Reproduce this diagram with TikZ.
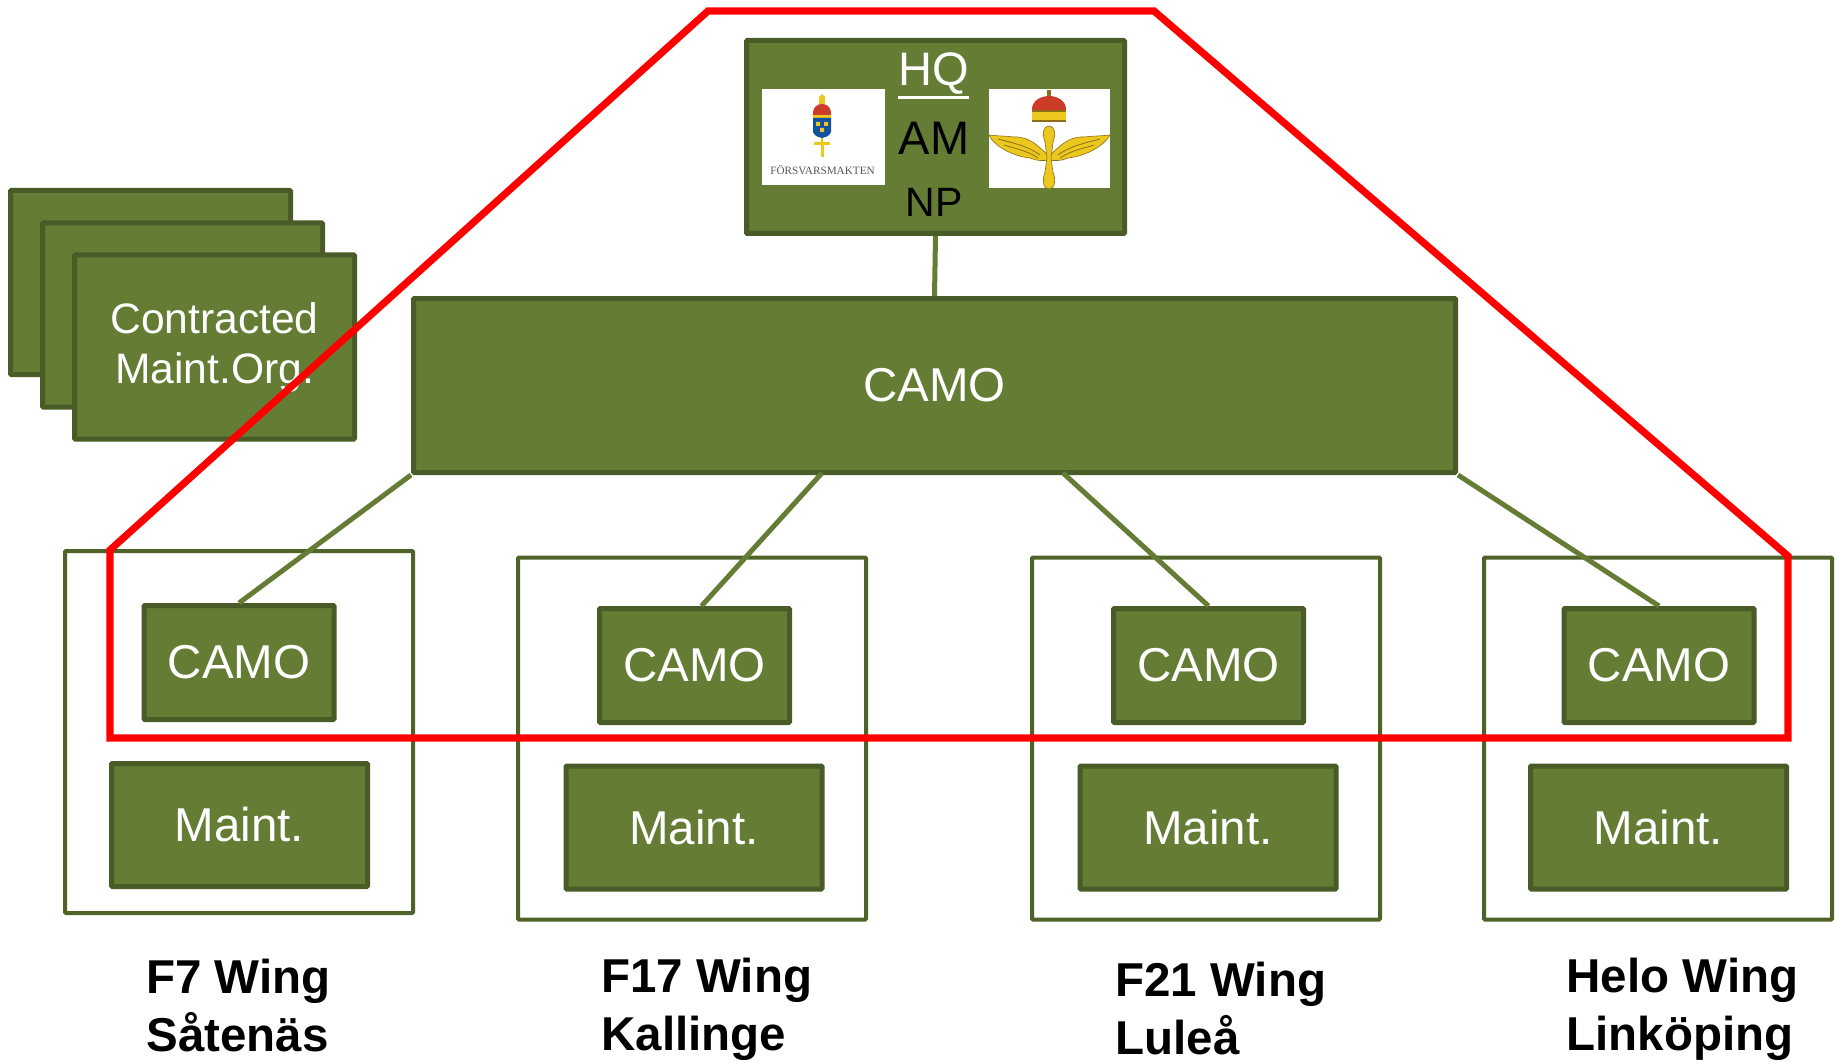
\documentclass[tikz,border=0pt]{standalone}
\usepackage{fontspec}
\setmainfont{Liberation Sans}
\newfontfamily\logofont{Liberation Serif}
\usetikzlibrary{arrows.meta}
\definecolor{boxfill}{RGB}{100,124,52}
\definecolor{boxline}{RGB}{73,91,38}
\definecolor{framegreen}{RGB}{79,98,40}
\definecolor{logogold}{RGB}{236,200,30}
\definecolor{golddark}{RGB}{140,110,20}
\definecolor{crownred}{RGB}{205,60,40}
\definecolor{shieldblue}{RGB}{20,80,160}
\tikzset{
  orgbox/.style={draw=boxline,fill=boxfill,line width=2.5pt,rounded corners=0.5pt,text=white,
    font=\fontsize{23.75}{29}\selectfont,align=center,inner sep=0pt},
  smallbox/.style={orgbox,minimum width=95pt,minimum height=57pt},
  maintbox/.style={orgbox,minimum width=128pt,minimum height=61.5pt},
  stackbox/.style={orgbox,minimum width=140pt,minimum height=92pt,font=\fontsize{21.3}{25}\selectfont},
  wingframe/.style={draw=framegreen,line width=2pt,rounded corners=0.5pt,minimum width=174pt,minimum height=181pt,inner sep=0pt},
  winglabel/.style={anchor=west,align=left,inner sep=0pt,font=\fontsize{23.75}{29}\selectfont\bfseries},
  hqtext/.style={inner sep=0pt,font=\fontsize{23.5}{28}\selectfont},
  logobox/.style={fill=white,inner sep=0pt},
  linkline/.style={draw=boxfill,line width=2.5pt},
  scopeline/.style={draw=red,line width=3.6pt,line join=miter}
}
\begin{document}
\begin{tikzpicture}[x=0.5pt,y=0.5pt,yscale=-1,xscale=1]
\useasboundingbox (0,0) rectangle (1835,1064);

% Contracted organisations
\node [stackbox] (stacka) at (150.5,282.5) {};
\node [stackbox] (stackb) at (182.5,315) {};
\node [stackbox] (stackc) at (214.5,347) {Contracted\\Maint.Org.};

% Wing frames
\node [wingframe] (wingf) at (239,732) {};
\node [wingframe] (wingk) at (692,738.5) {};
\node [wingframe] (wingl) at (1206,738.5) {};
\node [wingframe] (wingh) at (1658,738.5) {};

% Wing boxes
\node [smallbox] (camof) at (239,662.5) {CAMO};
\node [smallbox] (camok) at (694.5,665.5) {CAMO};
\node [smallbox] (camol) at (1208.5,665.5) {CAMO};
\node [smallbox] (camoh) at (1659,665.5) {CAMO};
\node [maintbox] (maintf) at (239.5,825) {Maint.};
\node [maintbox] (maintk) at (694,827.5) {Maint.};
\node [maintbox] (maintl) at (1208,827.5) {Maint.};
\node [maintbox] (mainth) at (1658.5,827.5) {Maint.};

% Central boxes
\node [orgbox,minimum width=521pt,minimum height=87pt] (camomain) at (934.5,385.5) {CAMO};
\node [orgbox,minimum width=189pt,minimum height=96.5pt] (hqbox) at (935.5,137) {};

% Text Node
\node [hqtext,text=white] (hqtxt) at (934,74) {HQ};
\node [hqtext] (amtxt) at (934,138) {AM};
\node [hqtext,font=\fontsize{20.5}{25}\selectfont] (nptxt) at (934,202) {NP};
\draw [white,line width=1.5pt] (898,98) -- (969,98);

% Logo left
\node [logobox,minimum width=61.5pt,minimum height=48pt] (logoa) at (823.5,137) {};
\fill [logogold] (819.5,108) -- (824.5,108) -- (823,142) -- (821,142) -- cycle;
\fill [logogold] (819,97) -- (822,94) -- (825,97) -- (825,104) -- (819,104) -- cycle;
\fill [crownred] (813,117) .. controls (812,106) and (818,104) .. (822,104) .. controls (826,104) and (832,106) .. (831,117) -- cycle;
\fill [logogold] (813,115) rectangle (831,118);
\fill [shieldblue] (813,118) -- (831,118) -- (831,132) .. controls (829,137) and (825,137) .. (822,138) .. controls (819,137) and (815,137) .. (813,132) -- cycle;
\fill [logogold] (816,122) rectangle (820,126) (824,122) rectangle (828,126) (820,128) rectangle (824,132);
\fill [logogold] (814,142) rectangle (830,145);
\fill [logogold] (820.5,145) -- (823.5,145) -- (823.5,157) -- (820.5,157) -- cycle;
\node [inner sep=0pt,text=black!65,font=\logofont\fontsize{5.6}{6}\selectfont] (logoatxt) at (822.5,170) {FÖRSVARSMAKTEN};

% Logo right
\node [logobox,minimum width=60.5pt,minimum height=49.5pt] (logob) at (1049.5,139) {};
\fill [golddark] (1047,90) rectangle (1051,98);
\fill [crownred] (1032,111) .. controls (1031,100) and (1042,96) .. (1049,96) .. controls (1056,96) and (1067,100) .. (1066,111) -- cycle;
\fill [logogold] (1032,111) rectangle (1066,121);
\draw [golddark,line width=0.6pt] (1032,111) -- (1066,111) (1032,121) -- (1066,121);
\fill [logogold,draw=golddark,line width=0.3pt] (1049,156) .. controls (1040,148) and (1030,136) .. (1014,137) .. controls (1006,136) and (997,136) .. (989,135) .. controls (994,146) and (1012,156) .. (1030,158) .. controls (1036,161) and (1044,161) .. (1049,160)
 .. controls (1054,161) and (1062,161) .. (1068,158) .. controls (1086,156) and (1104,146) .. (1110,135) .. controls (1101,136) and (1092,136) .. (1084,137) .. controls (1068,136) and (1058,148) .. (1049,156) -- cycle;
\draw [golddark,line width=0.4pt] (998,139) .. controls (1012,143) and (1026,145) .. (1040,155) (1004,145) .. controls (1016,149) and (1026,150) .. (1038,158)
 (1100,139) .. controls (1086,143) and (1072,145) .. (1058,155) (1094,145) .. controls (1082,149) and (1072,150) .. (1060,158);
\fill [logogold,draw=golddark,line width=0.3pt] (1049,126) .. controls (1055,126) and (1056,134) .. (1053,142) -- (1051,158) -- (1053,172) .. controls (1056,180) and (1055,189) .. (1049,189) .. controls (1043,189) and (1042,180) .. (1045,172) -- (1047,158) -- (1045,142) .. controls (1042,134) and (1043,126) .. (1049,126) -- cycle;

% Wing names
\node [winglabel] (labelf) at (146,1006) {F7 Wing\\Såtenäs};
\node [winglabel] (labelk) at (601,1009) {F17 Wing\\Kallinge};
\node [winglabel] (labell) at (1115,1009) {F21 Wing\\Luleå};
\node [winglabel] (labelh) at (1566,1009) {Helo Wing\\Linköping};

% Connectors
\coordinate (tapk) at (822,473);
\coordinate (tapl) at (1063,473);
\draw [linkline] (hqbox.south) -- (camomain.north);
\draw [linkline] (camomain.south west) -- (camof.north);
\draw [linkline] (tapk) -- ([xshift=3.5pt]camok.north);
\draw [linkline] (tapl) -- (camol.north);
\draw [linkline] (camomain.south east) -- (camoh.north);

% Red outline
\draw [scopeline] (110,550) -- (708,11) -- (1154,11) -- (1788,556) -- (1788,738) -- (110,738) -- cycle;

\end{tikzpicture}
\end{document}
